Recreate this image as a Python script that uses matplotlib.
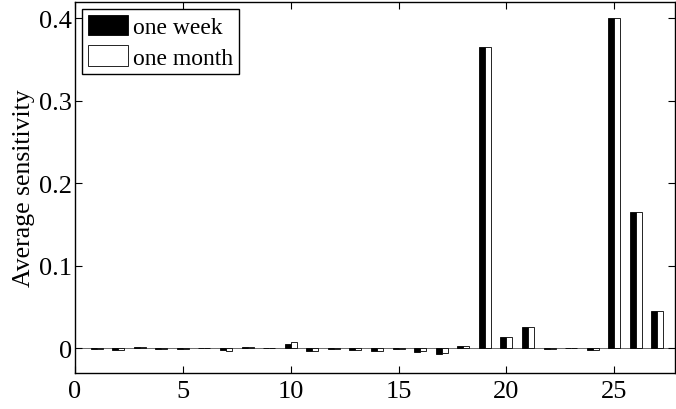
import numpy as np
import matplotlib.pyplot as plt

plt.rcParams['font.family'] = ['Liberation Serif', 'DejaVu Serif']
plt.rcParams['mathtext.fontset'] = 'stix'

# parameter index 1..27
params = list(range(1, 28))
one_week = [-0.001, -0.002, 0.001, -0.001, -0.001, 0.0005, -0.002, 0.001, 0.0005, 0.005,
            -0.003, -0.001, -0.002, -0.003, -0.001, -0.005, -0.007, 0.003, 0.365, 0.013,
            0.026, -0.001, 0.0005, -0.002, 0.401, 0.165, 0.045]
one_month = [-0.001, -0.002, 0.001, -0.001, -0.001, 0.0005, -0.003, 0.001, 0.0005, 0.008,
             -0.003, -0.001, -0.002, -0.003, -0.001, -0.004, -0.006, 0.003, 0.365, 0.013,
             0.026, -0.001, 0.0005, -0.002, 0.401, 0.165, 0.045]

x = np.array(params)
w = 0.28

fig = plt.figure(figsize=(6.76, 4.10), dpi=100)
ax = fig.add_axes([0.111, 0.088, 0.887, 0.905])

ax.bar(x - w / 2, one_week, w, color='black', edgecolor='black', linewidth=0.6, label='one week')
ax.bar(x + w / 2, one_month, w, color='white', edgecolor='black', linewidth=0.6, label='one month')
ax.axhline(0, color='#555555', linewidth=0.6, zorder=0)

ax.set_xlim(0, 27.8)
ax.set_ylim(-0.03, 0.42)
ax.set_xticks([0, 5, 10, 15, 20, 25])
ax.set_yticks([0, 0.1, 0.2, 0.3, 0.4])
ax.set_yticklabels(['0', '0.1', '0.2', '0.3', '0.4'])
ax.tick_params(direction='in', top=True, right=True, labelsize=19, length=5, width=0.8)
ax.tick_params(axis='y', pad=2)
ax.tick_params(axis='x', pad=5)
for s in ax.spines.values():
    s.set_linewidth(1.0)
ax.set_ylabel('Average sensitivity', fontsize=18.5, labelpad=3)

leg = ax.legend(loc='upper left', fontsize=17, frameon=True, fancybox=False,
                edgecolor='black', framealpha=1, handlelength=1.7, handleheight=0.95,
                handletextpad=0.2, borderpad=0.25, labelspacing=0.3,
                borderaxespad=0.3)
leg.get_frame().set_linewidth(1.0)

fig.savefig('out.png', dpi=100)
